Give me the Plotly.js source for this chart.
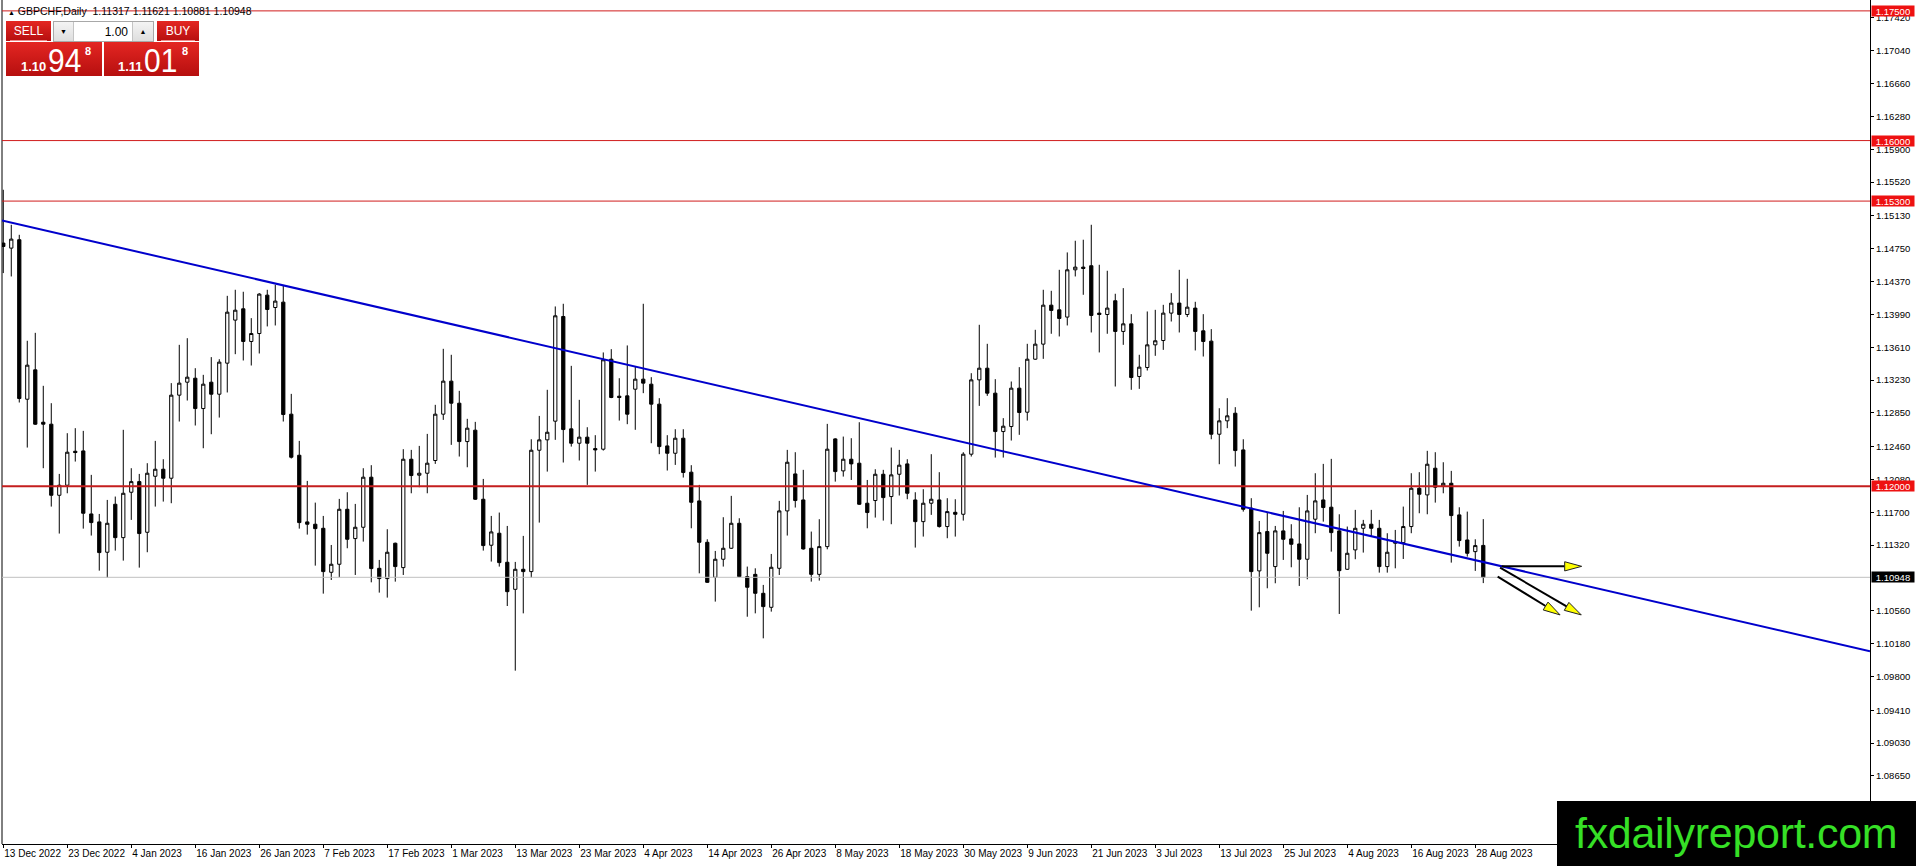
<!DOCTYPE html>
<html>
<head>
<meta charset="utf-8">
<script src="https://cdn.plot.ly/plotly-3.0.1.min.js"></script>
<style>
html,body{margin:0;padding:0;background:#fff;overflow:hidden;width:1916px;height:866px}
#chart{position:absolute;left:0;top:0;width:1916px;height:866px}
.red{position:absolute;background:linear-gradient(#e42622,#b60f0f);color:#fff;font-family:'Liberation Sans',Arial,sans-serif}
.lbl{position:absolute;left:0;right:0;top:3px;text-align:center;font-size:12px;line-height:14px}
.sep{position:absolute;left:4px;right:4px;bottom:0;height:1px;background:#f08a8a}
.sp{position:absolute;line-height:1;white-space:nowrap}
#spin{position:absolute;left:53px;top:21px;width:99px;height:19px;border:1px solid #a8a8a8;background:#fff;font-family:'Liberation Sans',Arial,sans-serif}
.sbtn{position:absolute;top:0;height:19px;width:19px;background:linear-gradient(#f4f4f4,#dedede);font-size:7px;line-height:19px;text-align:center;color:#000}
#brand{position:absolute;left:1557px;top:801px;width:359px;height:65px;background:#000;color:#36e026;font-family:'Liberation Sans',Arial,sans-serif;font-size:43px;line-height:65px;padding-left:18px;box-sizing:border-box;letter-spacing:-0.3px}
</style>
</head>
<body>
<div id="chart"></div>

<div class="red" style="left:6px;top:21px;width:45px;height:20px"><div class="lbl">SELL</div><div class="sep"></div></div>
<div id="spin">
  <div class="sbtn" style="left:0;border-right:1px solid #c4c4c4">&#9660;</div>
  <div class="sp" style="right:25px;top:4px;font-size:12px;color:#000">1.00</div>
  <div class="sbtn" style="right:0;width:20px;border-left:1px solid #c4c4c4">&#9650;</div>
</div>
<div class="red" style="left:157px;top:21px;width:42px;height:20px"><div class="lbl">BUY</div><div class="sep"></div></div>

<div class="red" style="left:6px;top:42px;width:96px;height:34px">
  <span class="sp" style="left:15px;top:18px;font-size:13px;font-weight:bold">1.10</span>
  <span class="sp" style="left:42px;top:1px;font-size:34px;transform:scaleX(0.88);transform-origin:left top">94</span>
  <span class="sp" style="left:79px;top:4px;font-size:11px;font-weight:bold">8</span>
</div>
<div class="red" style="left:104px;top:42px;width:95px;height:34px">
  <span class="sp" style="left:14px;top:18px;font-size:13px;font-weight:bold">1.11</span>
  <span class="sp" style="left:40px;top:1px;font-size:34px;transform:scaleX(0.88);transform-origin:left top">01</span>
  <span class="sp" style="left:78px;top:4px;font-size:11px;font-weight:bold">8</span>
</div>

<div id="brand">fxdailyreport.com</div>

<script>
// ---------------- data ----------------
const tickLabels = ["13 Dec 2022","23 Dec 2022","4 Jan 2023","16 Jan 2023","26 Jan 2023","7 Feb 2023",
  "17 Feb 2023","1 Mar 2023","13 Mar 2023","23 Mar 2023","4 Apr 2023","14 Apr 2023","26 Apr 2023",
  "8 May 2023","18 May 2023","30 May 2023","9 Jun 2023","21 Jun 2023","3 Jul 2023","13 Jul 2023",
  "25 Jul 2023","4 Aug 2023","16 Aug 2023","28 Aug 2023"];
const barsPerLabel = 8;

const opens = [
1.14814,1.14756,1.14853,1.13008,1.13348,1.12742,1.12719,1.11897,1.12013,1.12406,
1.12410,1.11681,1.11589,1.11238,1.11793,1.11407,1.11932,1.12055,1.11469,1.12117,
1.12198,1.12094,1.13055,1.13205,1.13251,1.12900,1.13205,1.13066,1.13425,1.13923,
1.14054,1.13676,1.13768,1.14212,1.14069,1.14131,1.12835,1.12360,1.11589,1.11562,
1.11515,1.11006,1.11099,1.11735,1.11396,1.11527,1.12106,1.11052,1.10933,1.11342,
1.11060,1.12314,1.12129,1.12152,1.12299,1.12835,1.13217,1.12962,1.12518,1.12650,
1.11851,1.11319,1.11458,1.11122,1.10809,1.11041,1.11014,1.12418,1.12538,1.12754,
1.13965,1.12665,1.12499,1.12569,1.12437,1.12430,1.13471,1.13043,1.13047,1.13124,
1.13240,1.13182,1.12951,1.12468,1.12383,1.12557,1.12164,1.11832,1.11353,1.10948,
1.11157,1.11284,1.11573,1.10956,1.10982,1.10763,1.10601,1.11052,1.11716,1.12144,
1.11843,1.11284,1.10982,1.11303,1.12549,1.12179,1.12314,1.12268,1.11805,1.11836,
1.12140,1.11882,1.12140,1.12260,1.11843,1.11592,1.11805,1.11843,1.11535,1.11700,
1.11677,1.12372,1.13232,1.13367,1.13078,1.12634,1.12692,1.13136,1.12858,1.13471,
1.13645,1.14096,1.14042,1.13958,1.14505,1.14536,1.14552,1.14004,1.13988,1.14147,
1.13792,1.13880,1.13271,1.13375,1.13637,1.13687,1.14004,1.14120,1.13988,1.14062,
1.13799,1.13680,1.12603,1.12758,1.12846,1.12422,1.11747,1.11022,1.11477,1.11072,
1.11485,1.11392,1.11334,1.11157,1.11620,1.11843,1.11759,1.11485,1.11041,1.11265,
1.11515,1.11562,1.11515,1.11072,1.11342,1.11349,1.11535,1.11978,1.11901,1.12210,
1.12005,1.12036,1.11670,1.11380,1.11245,1.11317];
const highs = [
1.15431,1.15026,1.14910,1.13684,1.13776,1.13163,1.12962,1.12144,1.12615,1.12673,
1.12642,1.12133,1.11681,1.11843,1.11882,1.12654,1.12210,1.12144,1.12268,1.12526,
1.12314,1.13194,1.13637,1.13714,1.13367,1.13290,1.13495,1.13471,1.14204,1.14274,
1.14251,1.13946,1.14235,1.14274,1.14332,1.14320,1.13070,1.12526,1.12063,1.11812,
1.11658,1.11322,1.11855,1.11932,1.11797,1.12210,1.12245,1.11149,1.11504,1.11349,
1.12430,1.12422,1.12468,1.12607,1.12943,1.13591,1.13522,1.13105,1.12781,1.12746,
1.12086,1.11658,1.11697,1.11542,1.11126,1.11427,1.12545,1.12815,1.13117,1.14081,
1.14112,1.13394,1.13001,1.12684,1.12592,1.13549,1.13587,1.13251,1.13630,1.13387,
1.14112,1.13263,1.13020,1.12592,1.12661,1.12661,1.12245,1.12017,1.11388,1.11253,
1.11643,1.11890,1.11631,1.11072,1.11052,1.10860,1.11218,1.11832,1.12422,1.12395,
1.12191,1.11477,1.11620,1.12723,1.12557,1.12576,1.12557,1.12742,1.12074,1.12198,
1.12191,1.12449,1.12422,1.12314,1.11932,1.11967,1.12372,1.12164,1.11863,1.11851,
1.12395,1.13309,1.13869,1.13649,1.13240,1.12789,1.13213,1.13379,1.13649,1.13811,
1.14274,1.14262,1.14505,1.14706,1.14841,1.14853,1.15026,1.14563,1.14494,1.14228,
1.14293,1.13992,1.13522,1.14023,1.14042,1.14100,1.14235,1.14505,1.14401,1.14135,
1.13992,1.13819,1.12904,1.13020,1.12916,1.12545,1.11863,1.11600,1.11697,1.11542,
1.11716,1.11562,1.11758,1.11901,1.12152,1.12260,1.12318,1.11677,1.11535,1.11728,
1.11612,1.11728,1.11612,1.11458,1.11496,1.11766,1.12152,1.12164,1.12411,1.12395,
1.12279,1.12179,1.11758,1.11708,1.11388,1.11621];
const lows = [
1.14467,1.14428,1.12970,1.12449,1.12711,1.12210,1.11766,1.11454,1.11920,1.12287,
1.11511,1.11431,1.11025,1.10944,1.11257,1.11141,1.11612,1.11060,1.11238,1.11766,
1.11824,1.11805,1.12750,1.12993,1.12704,1.12441,1.12603,1.12796,1.13086,1.13529,
1.13456,1.13398,1.13537,1.13850,1.13861,1.12750,1.12322,1.11511,1.11442,1.11083,
1.10759,1.10917,1.10948,1.11284,1.10975,1.11361,1.10890,1.10771,1.10713,1.10898,
1.10975,1.11920,1.11990,1.11920,1.12260,1.12769,1.12480,1.12345,1.12221,1.11843,
1.11257,1.11130,1.11072,1.10616,1.09868,1.10531,1.10944,1.11581,1.12171,1.12538,
1.12276,1.12460,1.12299,1.12017,1.12171,1.12414,1.13020,1.12761,1.12719,1.12654,
1.13078,1.12499,1.12372,1.12183,1.12248,1.12102,1.11515,1.10994,1.10883,1.10667,
1.11072,1.11276,1.10948,1.10492,1.10531,1.10242,1.10551,1.10975,1.11431,1.11755,
1.11268,1.10898,1.10910,1.11272,1.12055,1.12113,1.12074,1.11785,1.11515,1.11639,
1.11604,1.11562,1.11894,1.11851,1.11292,1.11419,1.11670,1.11523,1.11400,1.11419,
1.11604,1.12345,1.12931,1.13047,1.12333,1.12333,1.12530,1.12596,1.12761,1.13464,
1.13475,1.13765,1.13734,1.13861,1.14428,1.14216,1.13780,1.13549,1.13765,1.13155,
1.13637,1.13117,1.13128,1.13340,1.13510,1.13579,1.13907,1.13780,1.13958,1.13572,
1.13502,1.12545,1.12256,1.12673,1.12229,1.11708,1.10562,1.10601,1.10821,1.10879,
1.11149,1.11064,1.10848,1.10925,1.11458,1.11592,1.11245,1.10524,1.11033,1.11157,
1.11234,1.11427,1.11002,1.11002,1.11052,1.11160,1.11458,1.11689,1.11677,1.11812,
1.11920,1.11118,1.11303,1.11187,1.11022,1.10881];
const closes = [
1.14775,1.14860,1.13016,1.13402,1.12719,1.12719,1.11897,1.12013,1.12395,1.12391,
1.11689,1.11581,1.11234,1.11573,1.11407,1.11920,1.12055,1.11454,1.12152,1.12198,
1.12094,1.13055,1.13194,1.13263,1.12900,1.13182,1.13066,1.13437,1.14015,1.14038,
1.13676,1.13768,1.14224,1.14046,1.14143,1.12831,1.12337,1.11581,1.11562,1.11511,
1.11014,1.11099,1.11735,1.11388,1.11527,1.12106,1.11049,1.10933,1.11238,1.11072,
1.12314,1.12125,1.12152,1.12268,1.12835,1.13217,1.12962,1.12518,1.12673,1.11851,
1.11315,1.11473,1.11118,1.10782,1.11041,1.11014,1.12418,1.12538,1.12626,1.13973,
1.12657,1.12499,1.12569,1.12499,1.12422,1.13464,1.13028,1.13028,1.12835,1.13240,
1.13194,1.12951,1.12460,1.12383,1.12557,1.12160,1.11816,1.11353,1.10890,1.11157,
1.11284,1.11573,1.10956,1.10833,1.10763,1.10609,1.11064,1.11716,1.12279,1.11836,
1.11276,1.10982,1.11303,1.12430,1.12171,1.12314,1.12260,1.11793,1.11697,1.12140,
1.11870,1.12133,1.12245,1.11920,1.11592,1.11805,1.11851,1.11535,1.11708,1.11677,
1.12372,1.13232,1.13367,1.13078,1.12634,1.12696,1.13136,1.12854,1.13471,1.13645,
1.14096,1.14035,1.13942,1.14505,1.14536,1.14521,1.13977,1.13988,1.14062,1.13792,
1.13880,1.13259,1.13379,1.13637,1.13684,1.14004,1.14120,1.13988,1.14073,1.13792,
1.13676,1.12603,1.12758,1.12816,1.12414,1.11735,1.11014,1.11465,1.11226,1.11485,
1.11388,1.11330,1.11157,1.11716,1.11832,1.11755,1.11465,1.11025,1.11226,1.11515,
1.11562,1.11515,1.11072,1.11238,1.11361,1.11535,1.11978,1.11909,1.12256,1.11990,
1.12036,1.11662,1.11373,1.11226,1.11315,1.10948];

const priceTicks = [1.17420,1.17040,1.16660,1.16280,1.15900,1.15520,1.15130,1.14750,1.14370,1.13990,
  1.13610,1.13230,1.12850,1.12460,1.12080,1.11700,1.11320,1.10560,1.10180,1.09800,1.09410,
  1.09030,1.08650];
const resistanceLevels = [1.17500, 1.16000, 1.15300];
const keyLevel = 1.12000;
const bidPrice = 1.10948;
const headerText = "GBPCHF,Daily";
const headerOHLC = [1.11317, 1.11621, 1.10881, 1.10948];

// trendline anchor points (bar index, price)
const trendBars = [0, 199.8];
const trendPrices = [1.15072, 1.10809];

// projection arrows (bar index, price) start -> tip
const arrowStartBars = [187.3, 187.1, 186.8];
const arrowStartPrices = [1.11075, 1.11060, 1.10956];
const arrowEndBars = [197.3, 197.25, 194.6];
const arrowEndPrices = [1.11075, 1.10513, 1.10513];

// ---------------- layout constants ----------------
const W = 1916, H = 866;
const M = {l: 2, r: 46, t: 0, b: 22};
const xRange = [-0.16, 233.34];
const yRange = [1.07863, 1.17626];
const plotW = W - M.l - M.r, plotH = H - M.t - M.b;
const pxX = plotW / (xRange[1] - xRange[0]);
const pxY = plotH / (yRange[1] - yRange[0]);

const barIndex = opens.map((_, i) => i);

const trace = {
  type: 'candlestick',
  x: barIndex, open: opens, high: highs, low: lows, close: closes,
  increasing: {line: {color: '#000', width: 1}, fillcolor: '#ffffff'},
  decreasing: {line: {color: '#000', width: 1}, fillcolor: '#000000'},
  whiskerwidth: 0,
  hoverinfo: 'skip',
  showlegend: false
};

const shapes = [];
// left frame border
shapes.push({type: 'line', xref: 'paper', yref: 'paper', x0: 0, x1: 0, y0: 0, y1: 1,
  line: {color: '#000', width: 1}});
// thin red resistance lines
resistanceLevels.forEach(v => shapes.push({type: 'line', xref: 'paper', yref: 'y', x0: 0, x1: 1, y0: v, y1: v,
  line: {color: '#d01c1c', width: 1}}));
// key level
shapes.push({type: 'line', xref: 'paper', yref: 'y', x0: 0, x1: 1, y0: keyLevel, y1: keyLevel,
  line: {color: '#c41e1e', width: 2}});
// bid line
shapes.push({type: 'line', xref: 'paper', yref: 'y', x0: 0, x1: 1, y0: bidPrice, y1: bidPrice,
  line: {color: '#c0c0c0', width: 1}});
// trendline extended across the chart
const slope = (trendPrices[1] - trendPrices[0]) / (trendBars[1] - trendBars[0]);
const tAt = b => trendPrices[0] + slope * (b - trendBars[0]);
shapes.push({type: 'line', xref: 'x', yref: 'y', x0: xRange[0], y0: tAt(xRange[0]), x1: xRange[1], y1: tAt(xRange[1]),
  line: {color: '#0000cc', width: 2}});

// arrows: black shaft + yellow triangular head
const headLen = 17, headHalf = 4.6;
arrowStartBars.forEach((_, k) => {
  const x0 = arrowStartBars[k], y0 = arrowStartPrices[k], x1 = arrowEndBars[k], y1 = arrowEndPrices[k];
  const dx = (x1 - x0) * pxX, dy = -(y1 - y0) * pxY;
  const L = Math.hypot(dx, dy);
  const ux = dx / L, uy = dy / L, nx = -uy, ny = ux;
  const toData = (px, py) => [x0 + px / pxX, y0 - py / pxY];
  const bx = dx - ux * headLen, by = dy - uy * headLen;
  const base = toData(bx, by);
  shapes.push({type: 'line', xref: 'x', yref: 'y', x0: x0, y0: y0, x1: base[0], y1: base[1],
    line: {color: '#000', width: 2}});
  const p1 = toData(dx, dy), p2 = toData(bx + nx * headHalf, by + ny * headHalf), p3 = toData(bx - nx * headHalf, by - ny * headHalf);
  shapes.push({type: 'path', xref: 'x', yref: 'y',
    path: `M${p1[0]},${p1[1]} L${p2[0]},${p2[1]} L${p3[0]},${p3[1]} Z`,
    fillcolor: '#ffff00', line: {color: '#222', width: 1}});
});

const annotations = [];
const priceBox = (v, bg) => ({
  xref: 'paper', x: 1, xanchor: 'left', xshift: 1, yref: 'y', y: v, yanchor: 'middle',
  text: v.toFixed(5), showarrow: false, bgcolor: bg, borderpad: 0, width: 42, height: 10, align: 'center',
  font: {family: 'Liberation Sans, Arial, sans-serif', size: 9.5, color: '#fff'}
});
resistanceLevels.forEach(v => annotations.push(priceBox(v, '#ee1111')));
annotations.push(priceBox(keyLevel, '#ee1111'));
annotations.push(priceBox(bidPrice, '#000'));
annotations.push({
  xref: 'paper', yref: 'paper', x: 0, y: 1, xanchor: 'left', yanchor: 'top', xshift: 4, yshift: -3,
  showarrow: false, align: 'left',
  text: '<span style="font-size:7px">&#9650;</span>&nbsp;' + headerText + '&nbsp;&nbsp;' + headerOHLC.map(v => v.toFixed(5)).join(' '),
  font: {family: 'Liberation Sans, Arial, sans-serif', size: 10.5, color: '#000'}
});

const layout = {
  width: W, height: H, margin: M,
  paper_bgcolor: '#ffffff', plot_bgcolor: '#ffffff', showlegend: false,
  font: {family: 'Liberation Sans, Arial, sans-serif', size: 10, color: '#000'},
  boxgap: 0.42,
  xaxis: {
    range: xRange, autorange: false, showgrid: false, zeroline: false, automargin: false,
    showline: true, linecolor: '#000', linewidth: 1,
    ticks: 'outside', ticklen: 3, tickcolor: '#000',
    tickvals: tickLabels.map((_, k) => k * barsPerLabel), ticktext: tickLabels,
    ticklabelposition: 'outside right', tickangle: 0, tickfont: {size: 10},
    rangeslider: {visible: false}, fixedrange: true
  },
  yaxis: {
    side: 'right', range: yRange, autorange: false, showgrid: false, zeroline: false, automargin: false,
    showline: true, linecolor: '#000', linewidth: 1,
    ticks: 'outside', ticklen: 3, tickcolor: '#000',
    tickvals: priceTicks, ticktext: priceTicks.map(v => v.toFixed(5)),
    tickfont: {size: 9.5}, fixedrange: true
  },
  shapes: shapes,
  annotations: annotations
};

Plotly.newPlot('chart', [trace], layout, {staticPlot: true, displayModeBar: false});
</script>
</body>
</html>
